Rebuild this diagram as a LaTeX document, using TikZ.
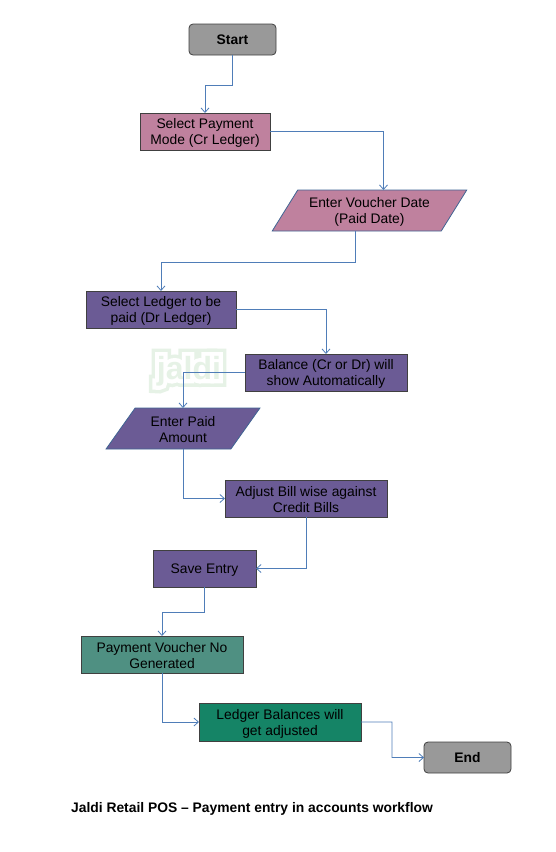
\documentclass[tikz,border=0pt]{standalone}
\usepackage{fontspec}
\setmainfont{Liberation Sans}
\newfontfamily\rimfont[BoldFont={Liberation Sans Bold},BoldFeatures={FakeBold=47}]{Liberation Sans}
\newfontfamily\haloFont[BoldFont={Liberation Sans Bold},BoldFeatures={FakeBold=25}]{Liberation Sans}
\usepackage{xcolor}
\usetikzlibrary{arrows.meta,positioning,calc,shapes.geometric}
\definecolor{flowblue}{HTML}{4F7DB8}
\definecolor{mvgrey}{HTML}{999999}
\definecolor{mvmauve}{HTML}{BF819E}
\definecolor{mvpurple}{HTML}{6B5B95}
\definecolor{mvteal}{HTML}{4F9082}
\definecolor{mvgreen}{HTML}{158466}
\definecolor{markgreen}{HTML}{E6F2E6}
\tikzset{
  flowarrow/.style={-{Straight Barb[length=4.5pt,width=8pt]}, draw=flowblue, line width=0.8pt},
  boxbase/.style={draw=black!75, line width=0.8pt, align=center, inner sep=0pt, outer sep=0pt,
    minimum height=37pt, text height=29pt, font=\fontsize{13.85}{16}\selectfont},
  terminal/.style={boxbase, rounded corners=4pt, fill=mvgrey, minimum width=87pt,
    minimum height=31pt, text height=10pt, font=\fontsize{13.85}{16}\selectfont\bfseries},
  mauvebox/.style={boxbase, fill=mvmauve, minimum width=130pt},
  purplebox/.style={boxbase, fill=mvpurple},
  inputbox/.style={boxbase, draw=flowblue!80!black, trapezium, trapezium left angle=56,
    trapezium right angle=124, trapezium stretches=true, minimum height=41pt},
  caption/.style={font=\fontsize{13.85}{16}\selectfont\bfseries, inner sep=0pt},
  markrim/.style={inner sep=0pt}
}
\begin{document}
\begin{tikzpicture}[x=1pt,y=-1pt]
  \useasboundingbox (0,0) rectangle (556,852);
  % watermark
  \node[markrim, text=markgreen, font=\rimfont\fontsize{32}{32}\selectfont\bfseries] (markrim) at (189,371) {jaldi};
  \node[markrim, text=white, font=\haloFont\fontsize{32}{32}\selectfont\bfseries] (markhalo) at (189,371) {jaldi};
  \node[markrim, text=markgreen, font=\fontsize{32}{32}\selectfont\bfseries] (mark) at (189,371) {jaldi};
  \node[terminal] (start) at (232.5,39.5) {Start};
  \node[mauvebox, below=58pt of start, xshift=-27.5pt] (mode) {Select Payment\\Mode (Cr Ledger)};
  \node[inputbox, fill=mvmauve, minimum width=195pt, below=40pt of mode, xshift=164.5pt] (date) {Enter Voucher Date\\(Paid Date)};
  \node[purplebox, minimum width=150pt, below=60pt of date, xshift=-208.5pt] (ledger) {Select Ledger to be\\paid (Dr Ledger)};
  \node[purplebox, minimum width=162pt, below=26pt of ledger, xshift=165pt] (balance) {Balance (Cr or Dr) will\\show Automatically};
  \node[inputbox, fill=mvpurple, minimum width=154pt, below=17pt of balance, xshift=-143pt] (paid) {Enter Paid\\Amount};
  \node[purplebox, minimum width=162pt, below=31pt of paid, xshift=123pt] (adjust) {Adjust Bill wise against\\Credit Bills};
  \node[purplebox, minimum width=103pt, text height=13pt, below=33pt of adjust, xshift=-101.5pt] (save) {Save Entry};
  \node[boxbase, fill=mvteal, minimum width=162pt, below=49pt of save, xshift=-42.5pt] (voucherno) {Payment Voucher No\\Generated};
  \node[boxbase, fill=mvgreen, minimum width=162pt, minimum height=38pt, below=30pt of voucherno, xshift=118pt] (adjusted) {Ledger Balances will\\get adjusted};
  \node[terminal, below=1pt of adjusted, xshift=187.5pt] (end) {End};
  \node[caption] (title) at (252,808.5) {Jaldi Retail POS – Payment entry in accounts workflow};
  % bends
  \coordinate (bendA) at (205,85);
  \coordinate (bendB) at (161,262);
  \coordinate (bendC) at (162,612);
  \coordinate (bendD) at (392,722);
  \draw[flowarrow] (start.south) |- (bendA) -- (mode.north);
  \draw[flowarrow] (mode.east) -| ([xshift=14pt]date.north);
  \draw[flowarrow] ([xshift=-14pt]date.south) |- (bendB) -- (ledger.north);
  \draw[flowarrow] (ledger.east) -| (balance.north);
  \draw[flowarrow] (balance.west) -| (paid.north);
  \draw[flowarrow] (paid.south) |- (adjust.west);
  \draw[flowarrow] (adjust.south) |- (save.east);
  \draw[flowarrow] (save.south) |- (bendC) -- (voucherno.north);
  \draw[flowarrow] (voucherno.south) |- (adjusted.west);
  \draw[flowarrow] (adjusted.east) -- (bendD) |- (end.west);
\end{tikzpicture}
\end{document}
